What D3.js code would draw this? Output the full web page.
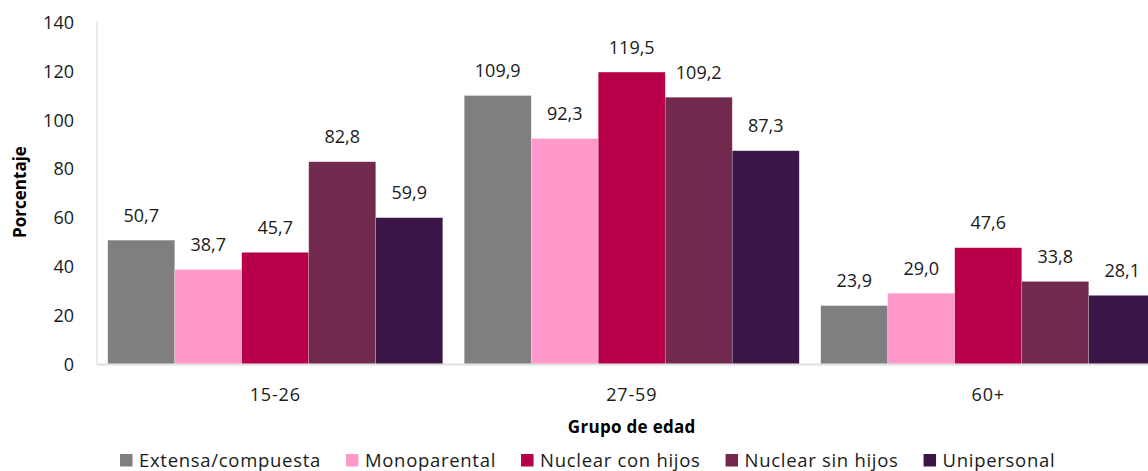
<!DOCTYPE html>
<html><head><meta charset="utf-8">
<script src="https://cdn.jsdelivr.net/npm/d3@7"></script>
<style>body{margin:0;background:#fff;overflow:hidden}svg{display:block}text{font-family:"Open Sans","Noto Sans",sans-serif}</style>
</head><body><svg id="c" width="1148" height="471"></svg>
<script>
const categories = ["15-26", "27-59", "60+"];
const seriesNames = ["Extensa/compuesta", "Monoparental", "Nuclear con hijos", "Nuclear sin hijos", "Unipersonal"];
const extensa = [50.7, 109.9, 23.9];
const monoparental = [38.7, 92.3, 29.0];
const nuclearCon = [45.7, 119.5, 47.6];
const nuclearSin = [82.8, 109.2, 33.8];
const unipersonal = [59.9, 87.3, 28.1];
const yTicks = [0, 20, 40, 60, 80, 100, 120, 140];
const colors = ["#7f7f7f", "#ff99cc", "#b70049", "#72294e", "#3b1547"];
const seriesValues = [extensa, monoparental, nuclearCon, nuclearSin, unipersonal];

(function () {
const svg = d3.select("#c");
const pl = 97, pr = 1166.5, pt = 22, pb = 364;
const pad = 21.5 / 356.5;
const x0 = d3.scaleBand().domain(categories).range([pl, pr]).paddingInner(pad).paddingOuter(pad / 2);
const x1 = d3.scaleBand().domain(seriesNames).range([0, x0.bandwidth()]);
const y = d3.scaleLinear().domain([0, 140]).range([pb, pt]);
const fmt = v => d3.format(".1f")(v).replace(".", ",");
const ff = '"Open Sans","Noto Sans",sans-serif';

svg.append("line").attr("x1", pl).attr("x2", pl).attr("y1", pt - 1).attr("y2", pb).attr("stroke", "#e3e3e3").attr("stroke-width", 1.5);

const yAxis = d3.axisLeft(y).tickValues(yTicks).tickSize(0).tickPadding(0);
const gy = svg.append("g").attr("transform", `translate(74,0)`).call(yAxis);
gy.select(".domain").remove();
gy.selectAll("text").attr("font-size", 18).attr("fill", "#1a1a1a").attr("font-family", ff).attr("dy", "0.35em");

categories.forEach((c, ci) => {
  seriesNames.forEach((s, si) => {
    const v = seriesValues[si][ci];
    svg.append("rect")
      .attr("x", x0(c) + x1(s)).attr("width", x1.bandwidth())
      .attr("y", y(v)).attr("height", y(0) - y(v))
      .attr("fill", colors[si]).attr("stroke", "rgba(255,255,255,0.35)").attr("stroke-width", 0.6);
    svg.append("text")
      .attr("x", x0(c) + x1(s) + x1.bandwidth() / 2).attr("y", y(v) - 18.5)
      .attr("text-anchor", "middle").attr("font-size", 18).attr("fill", "#1a1a1a")
      .text(fmt(v));
  });
});

svg.append("line").attr("x1", pl).attr("x2", 1148).attr("y1", pb + 0.5).attr("y2", pb + 0.5).attr("stroke", "#e0e0e0").attr("stroke-width", 2);

const xAxis = d3.axisBottom(x0).tickSize(0).tickPadding(0);
const gx = svg.append("g").attr("transform", `translate(0,401)`).call(xAxis);
gx.select(".domain").remove();
gx.selectAll("text").attr("font-size", 18).attr("fill", "#1a1a1a").attr("font-family", ff).attr("dy", 0).attr("letter-spacing", 0.8);

svg.append("text").attr("x", (pl + pr) / 2).attr("y", 433).attr("text-anchor", "middle")
  .attr("font-size", 17).attr("font-weight", "bold").attr("fill", "#000").attr("letter-spacing", 0.3).text("Grupo de edad");
svg.append("text").attr("transform", "translate(26,192) rotate(-90)").attr("text-anchor", "middle")
  .attr("font-size", 17).attr("font-weight", "bold").attr("fill", "#000").text("Porcentaje");

let lx = 120;
seriesNames.forEach((s, i) => {
  svg.append("rect").attr("x", lx).attr("y", 454).attr("width", 12.5).attr("height", 12.5).attr("fill", colors[i]);
  const t = svg.append("text").attr("x", lx + 19).attr("y", 467).attr("font-size", 18.5).attr("letter-spacing", 0.7).attr("fill", "#1a1a1a").text(s);
  lx += 19 + t.node().getComputedTextLength() + 25;
});
})();
</script></body></html>
